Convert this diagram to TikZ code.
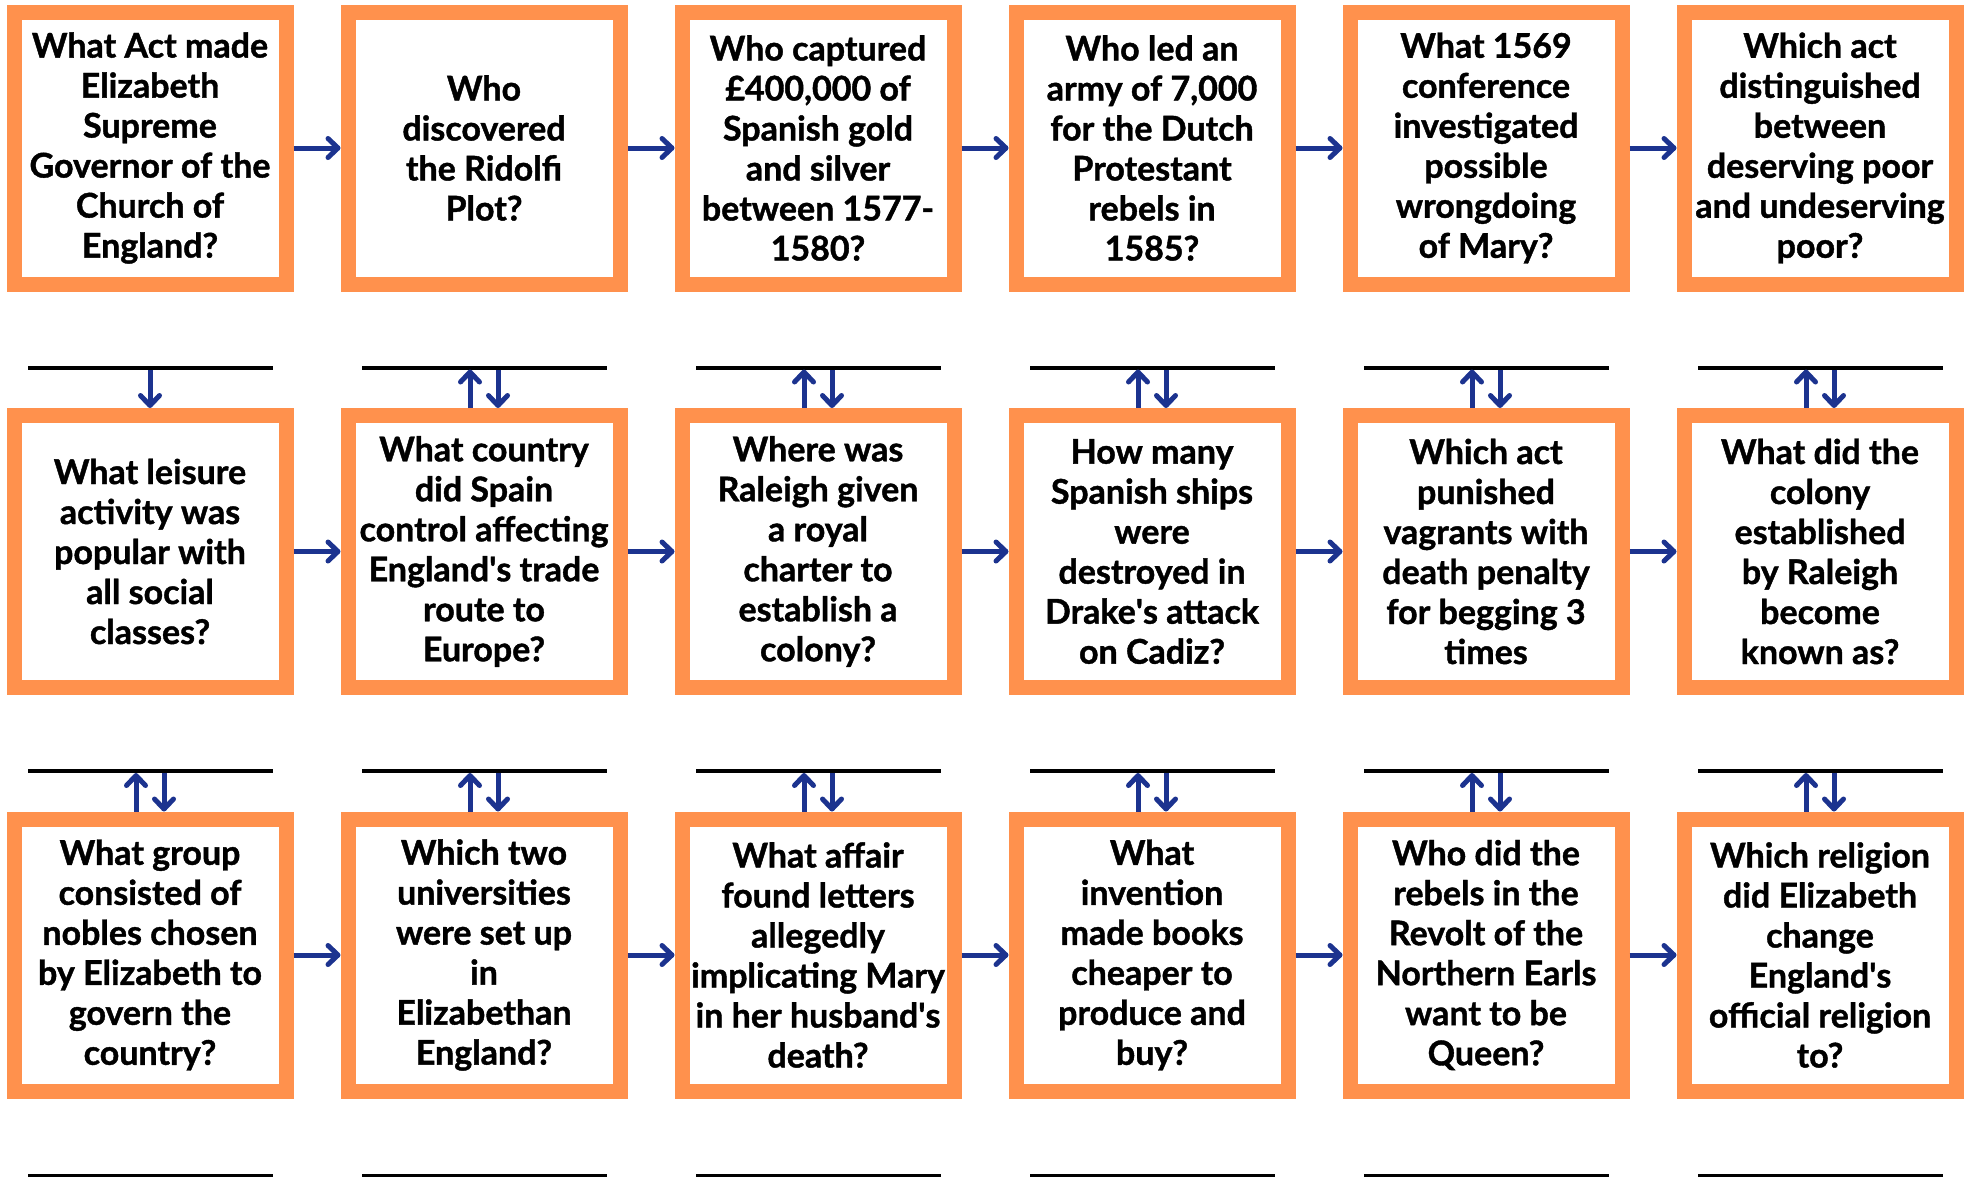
\documentclass[tikz,border=0pt]{standalone}
\usepackage{fontspec}
\setmainfont{Lato}[BoldFeatures={FakeBold=1.2}]
\usepackage{xcolor}
\usepackage{tikz}
\usetikzlibrary{positioning,arrows.meta}

\definecolor{boxorange}{HTML}{FF914D}
\definecolor{arrowblue}{HTML}{1C338F}
\newcommand{\apos}{\textquotesingle}

\begin{document}
\begin{tikzpicture}[
    x=1pt, y=1pt,
    node distance=47pt,
    qbox/.style={rectangle, draw=boxorange, line width=15pt, fill=white, minimum width=272pt, minimum height=272pt, inner sep=0pt, align=center, font=\bfseries\fontsize{34}{40}\selectfont},
    ansline/.style={rectangle, fill=black, minimum width=245pt, minimum height=4pt, inner sep=0pt, outer sep=0pt},
    arr/.style={draw=arrowblue, line width=5pt, -{Straight Barb[round, length=10pt, width=19pt]}},
]
\useasboundingbox (0,0) rectangle (1968,-1176);

% Row 1
\node[qbox] (act) at (150,-148) {What Act made\\Elizabeth\\Supreme\\Governor of the\\Church of\\England?};
\node[qbox, right=of act] (ridolfi) {Who\\discovered\\the Ridolfi\\Plot?};
\node[qbox, right=of ridolfi] (drake) {Who captured\\£400,000 of\\Spanish gold\\and silver\\between 1577-\\1580?};
\node[qbox, right=of drake] (dutch) {Who led an\\army of 7,000\\for the Dutch\\Protestant\\rebels in\\1585?};
\node[qbox, right=of dutch] (york) {What 1569\\conference\\investigated\\possible\\wrongdoing\\of Mary?};
\node[qbox, right=of york] (poorlaw) {Which act\\distinguished\\between\\deserving poor\\and undeserving\\poor?};

% Answer lines
\node[ansline, below=74pt of act] (act-ans) {};
\node[ansline, below=74pt of ridolfi] (ridolfi-ans) {};
\node[ansline, below=74pt of drake] (drake-ans) {};
\node[ansline, below=74pt of dutch] (dutch-ans) {};
\node[ansline, below=74pt of york] (york-ans) {};
\node[ansline, below=74pt of poorlaw] (poorlaw-ans) {};

% Row 2
\node[qbox, below=38.5pt of act-ans] (leisure) {What leisure\\activity was\\popular with\\all social\\classes?};
\node[qbox, below=38.5pt of ridolfi-ans] (trade) {What country\\did Spain\\control affecting\\England\apos s trade\\route to\\Europe?};
\node[qbox, below=38.5pt of drake-ans] (raleigh) {Where was\\Raleigh given\\a royal\\charter to\\establish a\\colony?};
\node[qbox, below=38.5pt of dutch-ans] (cadiz) {How many\\Spanish ships\\were\\destroyed in\\Drake\apos s attack\\on Cadiz?};
\node[qbox, below=38.5pt of york-ans] (vagrants) {Which act\\punished\\vagrants with\\death penalty\\for begging 3\\times};
\node[qbox, below=38.5pt of poorlaw-ans] (colony) {What did the\\colony\\established\\by Raleigh\\become\\known as?};

% Answer lines
\node[ansline, below=74pt of leisure] (leisure-ans) {};
\node[ansline, below=74pt of trade] (trade-ans) {};
\node[ansline, below=74pt of raleigh] (raleigh-ans) {};
\node[ansline, below=74pt of cadiz] (cadiz-ans) {};
\node[ansline, below=74pt of vagrants] (vagrants-ans) {};
\node[ansline, below=74pt of colony] (colony-ans) {};

% Row 3
\node[qbox, below=38.5pt of leisure-ans] (council) {What group\\consisted of\\nobles chosen\\by Elizabeth to\\govern the\\country?};
\node[qbox, below=38.5pt of trade-ans] (unis) {Which two\\universities\\were set up\\in\\Elizabethan\\England?};
\node[qbox, below=38.5pt of raleigh-ans] (affair) {What affair\\found letters\\allegedly\\implicating Mary\\in her husband\apos s\\death?};
\node[qbox, below=38.5pt of cadiz-ans] (printing) {What\\invention\\made books\\cheaper to\\produce and\\buy?};
\node[qbox, below=38.5pt of vagrants-ans] (earls) {Who did the\\rebels in the\\Revolt of the\\Northern Earls\\want to be\\Queen?};
\node[qbox, below=38.5pt of colony-ans] (religion) {Which religion\\did Elizabeth\\change\\England\apos s\\official religion\\to?};

% Answer lines (cut off by the page edge)
\node[ansline, below=75.5pt of council] (council-ans) {};
\node[ansline, below=75.5pt of unis] (unis-ans) {};
\node[ansline, below=75.5pt of affair] (affair-ans) {};
\node[ansline, below=75.5pt of printing] (printing-ans) {};
\node[ansline, below=75.5pt of earls] (earls-ans) {};
\node[ansline, below=75.5pt of religion] (religion-ans) {};

% Arrows along the rows
\draw[arr] (act) -- (ridolfi);
\draw[arr] (ridolfi) -- (drake);
\draw[arr] (drake) -- (dutch);
\draw[arr] (dutch) -- (york);
\draw[arr] (york) -- (poorlaw);
\draw[arr] (leisure) -- (trade);
\draw[arr] (trade) -- (raleigh);
\draw[arr] (raleigh) -- (cadiz);
\draw[arr] (cadiz) -- (vagrants);
\draw[arr] (vagrants) -- (colony);
\draw[arr] (council) -- (unis);
\draw[arr] (unis) -- (affair);
\draw[arr] (affair) -- (printing);
\draw[arr] (printing) -- (earls);
\draw[arr] (earls) -- (religion);

% Arrows between lines and boxes
\draw[arr] (act-ans) -- (leisure);
\draw[arr] ([xshift=-14pt]trade.north) -- ([xshift=-14pt]ridolfi-ans.south);
\draw[arr] ([xshift=14pt]ridolfi-ans.south) -- ([xshift=14pt]trade.north);
\draw[arr] ([xshift=-14pt]raleigh.north) -- ([xshift=-14pt]drake-ans.south);
\draw[arr] ([xshift=14pt]drake-ans.south) -- ([xshift=14pt]raleigh.north);
\draw[arr] ([xshift=-14pt]cadiz.north) -- ([xshift=-14pt]dutch-ans.south);
\draw[arr] ([xshift=14pt]dutch-ans.south) -- ([xshift=14pt]cadiz.north);
\draw[arr] ([xshift=-14pt]vagrants.north) -- ([xshift=-14pt]york-ans.south);
\draw[arr] ([xshift=14pt]york-ans.south) -- ([xshift=14pt]vagrants.north);
\draw[arr] ([xshift=-14pt]colony.north) -- ([xshift=-14pt]poorlaw-ans.south);
\draw[arr] ([xshift=14pt]poorlaw-ans.south) -- ([xshift=14pt]colony.north);

\draw[arr] ([xshift=-14pt]council.north) -- ([xshift=-14pt]leisure-ans.south);
\draw[arr] ([xshift=14pt]leisure-ans.south) -- ([xshift=14pt]council.north);
\draw[arr] ([xshift=-14pt]unis.north) -- ([xshift=-14pt]trade-ans.south);
\draw[arr] ([xshift=14pt]trade-ans.south) -- ([xshift=14pt]unis.north);
\draw[arr] ([xshift=-14pt]affair.north) -- ([xshift=-14pt]raleigh-ans.south);
\draw[arr] ([xshift=14pt]raleigh-ans.south) -- ([xshift=14pt]affair.north);
\draw[arr] ([xshift=-14pt]printing.north) -- ([xshift=-14pt]cadiz-ans.south);
\draw[arr] ([xshift=14pt]cadiz-ans.south) -- ([xshift=14pt]printing.north);
\draw[arr] ([xshift=-14pt]earls.north) -- ([xshift=-14pt]vagrants-ans.south);
\draw[arr] ([xshift=14pt]vagrants-ans.south) -- ([xshift=14pt]earls.north);
\draw[arr] ([xshift=-14pt]religion.north) -- ([xshift=-14pt]colony-ans.south);
\draw[arr] ([xshift=14pt]colony-ans.south) -- ([xshift=14pt]religion.north);

\end{tikzpicture}
\end{document}
